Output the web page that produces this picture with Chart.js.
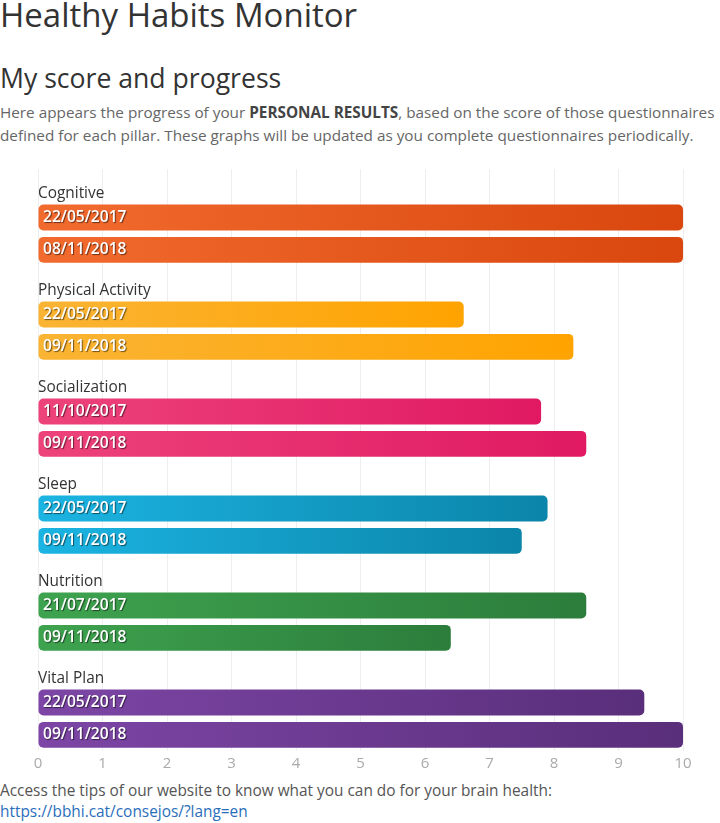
<!DOCTYPE html>
<html>
<head>
<meta charset="utf-8">
<script src="https://cdn.jsdelivr.net/npm/chart.js@4"></script>
<style>
  body { margin: 0; width: 720px; height: 823px; overflow: hidden; background: #fff; font-family: "Open Sans", sans-serif; position: relative; }
  .t { position: absolute; left: 0; white-space: nowrap; }
  #title { top: -8px; font-size: 33px; color: #333; }
  #sub { top: 60px; font-size: 26.6px; color: #333; }
  #intro { top: 101px; font-size: 15.3px; line-height: 23px; color: #666; }
  #intro b { color: #444; }
  #foot { top: 780px; font-size: 15.4px; line-height: 21px; color: #555; }
  #foot a { color: #2a6ebb; text-decoration: none; }
  #wrap { position: absolute; left: 0; top: 160px; width: 720px; height: 620px; }
</style>
</head>
<body>
<div class="t" id="title">Healthy Habits Monitor</div>
<div class="t" id="sub">My score and progress</div>
<div class="t" id="intro">Here appears the progress of your <b>PERSONAL RESULTS</b>, based on the score of those questionnaires<br>defined for each pillar. These graphs will be updated as you complete questionnaires periodically.</div>
<div id="wrap"><canvas id="chart"></canvas></div>
<div class="t" id="foot">Access the tips of our website to know what you can do for your brain health:<br><a href="#">https://bbhi.cat/consejos/?lang=en</a></div>
<script>
// pillars and scores
const pillars = ["Cognitive", "Physical Activity", "Socialization", "Sleep", "Nutrition", "Vital Plan"];
const firstDates = ["22/05/2017", "22/05/2017", "11/10/2017", "22/05/2017", "21/07/2017", "22/05/2017"];
const firstScores = [10, 6.6, 7.8, 7.9, 8.5, 9.4];
const lastDates = ["08/11/2018", "09/11/2018", "09/11/2018", "09/11/2018", "09/11/2018", "09/11/2018"];
const lastScores = [10, 8.3, 8.5, 7.5, 6.4, 10];
const xTicks = [0, 1, 2, 3, 4, 5, 6, 7, 8, 9, 10];

const colorsLeft = ["#f26b2e", "#fab434", "#ed437b", "#1cb4e2", "#3ea34f", "#7d46a6"];
const colorsRight = ["#d9470e", "#ffa300", "#e01962", "#0b85a9", "#2c7d3b", "#592e7a"];

// every pillar takes 3 rows: its name, first bar, last bar
let labels = [];
let values = [];
let rowPillar = [];
let rowKind = [];
pillars.forEach(function (p, i) {
  labels.push(p, firstDates[i], lastDates[i]);
  values.push(null, firstScores[i], lastScores[i]);
  rowPillar.push(i, i, i);
  rowKind.push("name", "bar", "bar");
});

function barFill(context) {
  const chart = context.chart;
  const area = chart.chartArea;
  if (!area) return colorsLeft[0];
  const i = context.dataIndex;
  const p = rowPillar[i];
  const v = values[i];
  if (v === null) return "transparent";
  const x = chart.scales.x;
  const g = chart.ctx.createLinearGradient(x.getPixelForValue(0), 0, x.getPixelForValue(v), 0);
  g.addColorStop(0, colorsLeft[p]);
  g.addColorStop(1, colorsRight[p]);
  return g;
}

const rowText = {
  id: "rowText",
  afterDatasetsDraw(chart) {
    const ctx = chart.ctx;
    const y = chart.scales.y;
    const left = chart.scales.x.getPixelForValue(0);
    ctx.save();
    ctx.textBaseline = "middle";
    ctx.textAlign = "left";
    labels.forEach(function (txt, i) {
      const cy = y.getPixelForValue(i);
      if (rowKind[i] === "name") {
        ctx.font = "15.4px 'Open Sans'";
        ctx.fillStyle = "#333";
        ctx.shadowColor = "transparent";
        ctx.fillText(txt, left, cy + 8);
      } else {
        ctx.font = "600 15.6px 'Open Sans'";
        ctx.fillStyle = "#fff";
        ctx.shadowColor = "rgba(0,0,0,0.55)";
        ctx.shadowOffsetX = 1;
        ctx.shadowOffsetY = 1;
        ctx.shadowBlur = 1;
        ctx.fillText(txt, left + 5, cy);
      }
    });
    ctx.restore();
  }
};

new Chart(document.getElementById("chart"), {
  type: "bar",
  data: {
    labels: labels,
    datasets: [{
      data: values,
      backgroundColor: barFill,
      borderRadius: 5,
      borderSkipped: false,
      barPercentage: 0.8,
      categoryPercentage: 1
    }]
  },
  options: {
    indexAxis: "y",
    responsive: true,
    maintainAspectRatio: false,
    animation: false,
    layout: { padding: { left: 38, right: 37, top: 9, bottom: 3 } },
    plugins: { legend: { display: false }, tooltip: { enabled: false } },
    scales: {
      x: {
        min: xTicks[0],
        max: xTicks[xTicks.length - 1],
        afterBuildTicks: function (axis) { axis.ticks = xTicks.map(v => ({ value: v })); },
        grid: { color: "#eeeeee", drawTicks: false },
        border: { display: false },
        ticks: { color: "#aaa", font: { family: "Open Sans", size: 15 }, padding: 4 }
      },
      y: { display: false }
    }
  },
  plugins: [rowText]
});
</script>
</body>
</html>
